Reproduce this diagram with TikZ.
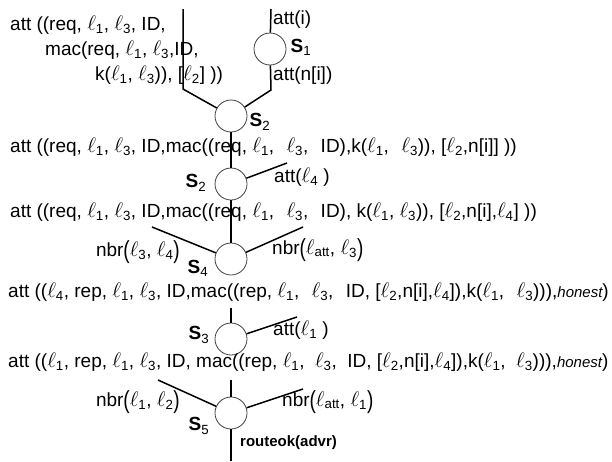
\documentclass[tikz,border=0pt]{standalone}
\usepackage{fontspec}
\usepackage{graphicx}
\setmainfont{Liberation Sans}
\newcommand{\el}[1]{\scalebox{1.22}{$\ell$}\textsubscript{#1}}
\newcommand{\Sl}[1]{\textbf{S}\textsubscript{#1}}
\newcommand{\ws}{\hspace{0.65em}}
\newcommand{\wt}{\hspace{0.55em}}
\newcommand{\lp}{\raisebox{-0.12em}{\scalebox{1}[1.3]{(}}}
\newcommand{\rp}{\raisebox{-0.12em}{\scalebox{1}[1.3]{)}}}
\begin{document}
\begin{tikzpicture}[x=1pt,y=-1pt,
  state/.style={circle,draw=black!75,line width=0.8pt,minimum size=32pt,inner sep=0pt},
  wire/.style={line width=1.5pt,black},
  txt/.style={inner sep=0pt,anchor=west,font=\fontsize{19}{21}\selectfont},
  slab/.style={inner sep=0pt,font=\fontsize{19}{21}\selectfont}]
\useasboundingbox (0,0) rectangle (612,461);
% states
\node[state] (s1) at (270,49) {};
\node[state] (s2a) at (231,116) {};
\node[state] (s2b) at (231,184) {};
\node[state] (s4) at (231,259) {};
\node[state] (s3) at (231,339) {};
\node[state] (s5) at (231,413) {};
% coordinates
\coordinate (t1) at (271,9);
\coordinate (b1) at (271,90);
\coordinate (tl) at (183,9);
\coordinate (bl) at (183,89);
\coordinate (a4) at (287,163);
\coordinate (n34) at (152,227);
\coordinate (n3a) at (303,227);
\coordinate (u3) at (231,308);
\coordinate (a1) at (297,317);
\coordinate (u5) at (231,380);
\coordinate (n12) at (158,380);
\coordinate (n1a) at (303,389);
\coordinate (bot) at (231,461);
% wires
\draw[wire] (t1) -- (s1);
\draw[wire] (s1) -- (b1) -- (s2a);
\draw[wire] (tl) -- (bl) -- (s2a);
\draw[wire] (s2a) -- (s2b);
\draw[wire] (s2b) -- (a4);
\draw[wire] (s2b) -- (s4);
\draw[wire] (n34) -- (s4);
\draw[wire] (s4) -- (n3a);
\draw[wire] (u3) -- (s3);
\draw[wire] (s3) -- (a1);
\draw[wire] (u5) -- (s5);
\draw[wire] (n12) -- (s5);
\draw[wire] (s5) -- (n1a);
\draw[wire] (s5) -- (bot);
% state labels
\node[slab] (ls1) at (301,47) {\Sl{1}};
\node[slab] (ls2a) at (260,122) {\Sl{2}};
\node[slab] (ls2b) at (196,183) {\Sl{2}};
\node[slab] (ls4) at (198,268) {\Sl{4}};
\node[slab] (ls3) at (199,335) {\Sl{3}};
\node[slab] (ls5) at (199,426) {\Sl{5}};
% texts
\node[txt] (m0a) at (10,25) {att ((req, \el{1}, \el{3}, ID,};
\node[txt] (m0b) at (45,50) {mac(req, \el{1}, \el{3},ID,};
\node[txt] (m0c) at (95,75) {k(\el{1}, \el{3})), [\el{2}] ))};
\node[txt] (ai) at (273,20) {att(i)};
\node[txt] (ani) at (273,76) {att(n[i])};
\node[txt] (m1) at (10,147) {att ((req, \el{1}, \el{3}, ID,mac((req, \el{1},\ws\el{3},\ws ID),k(\el{1},\ws\el{3})), [\el{2},n[i]] ))};
\node[txt] (al4) at (274,177) {att(\el{4} )};
\node[txt] (m2) at (10,212) {att ((req, \el{1}, \el{3}, ID,mac((req, \el{1},\ws\el{3},\ws ID), k(\el{1}, \el{3})), [\el{2},n[i],\el{4}] ))};
\node[txt,anchor=east] (nb34) at (180,252) {nbr\lp\el{3}, \el{4}\rp};
\node[txt] (nba3) at (272,250) {nbr\lp\el{att}, \el{3}\rp};
\node[txt] (m3) at (8,292) {att ((\el{4}, rep, \el{1}, \el{3}, ID,mac((rep, \el{1},\ws\el{3},\ws ID, [\el{2},n[i],\el{4}]),k(\el{1},\ws\el{3}))),{\fontsize{15}{16}\itshape honest})};
\node[txt] (al1) at (273,330) {att(\el{1} )};
\node[txt] (m4) at (8,362) {att ((\el{1}, rep, \el{1}, \el{3}, ID, mac((rep, \el{1},\wt\el{3},\wt ID, [\el{2},n[i],\el{4}]),k(\el{1},\wt\el{3}))),{\fontsize{15}{16}\itshape honest})};
\node[txt,anchor=east] (nb12) at (180,402) {nbr\lp\el{1}, \el{2}\rp};
\node[txt] (nba1) at (282,402) {nbr\lp\el{att}, \el{1}\rp};
\node[txt,font=\fontsize{15}{17}\selectfont\bfseries] (rok) at (240,443) {routeok(advr)};
\end{tikzpicture}
\end{document}
